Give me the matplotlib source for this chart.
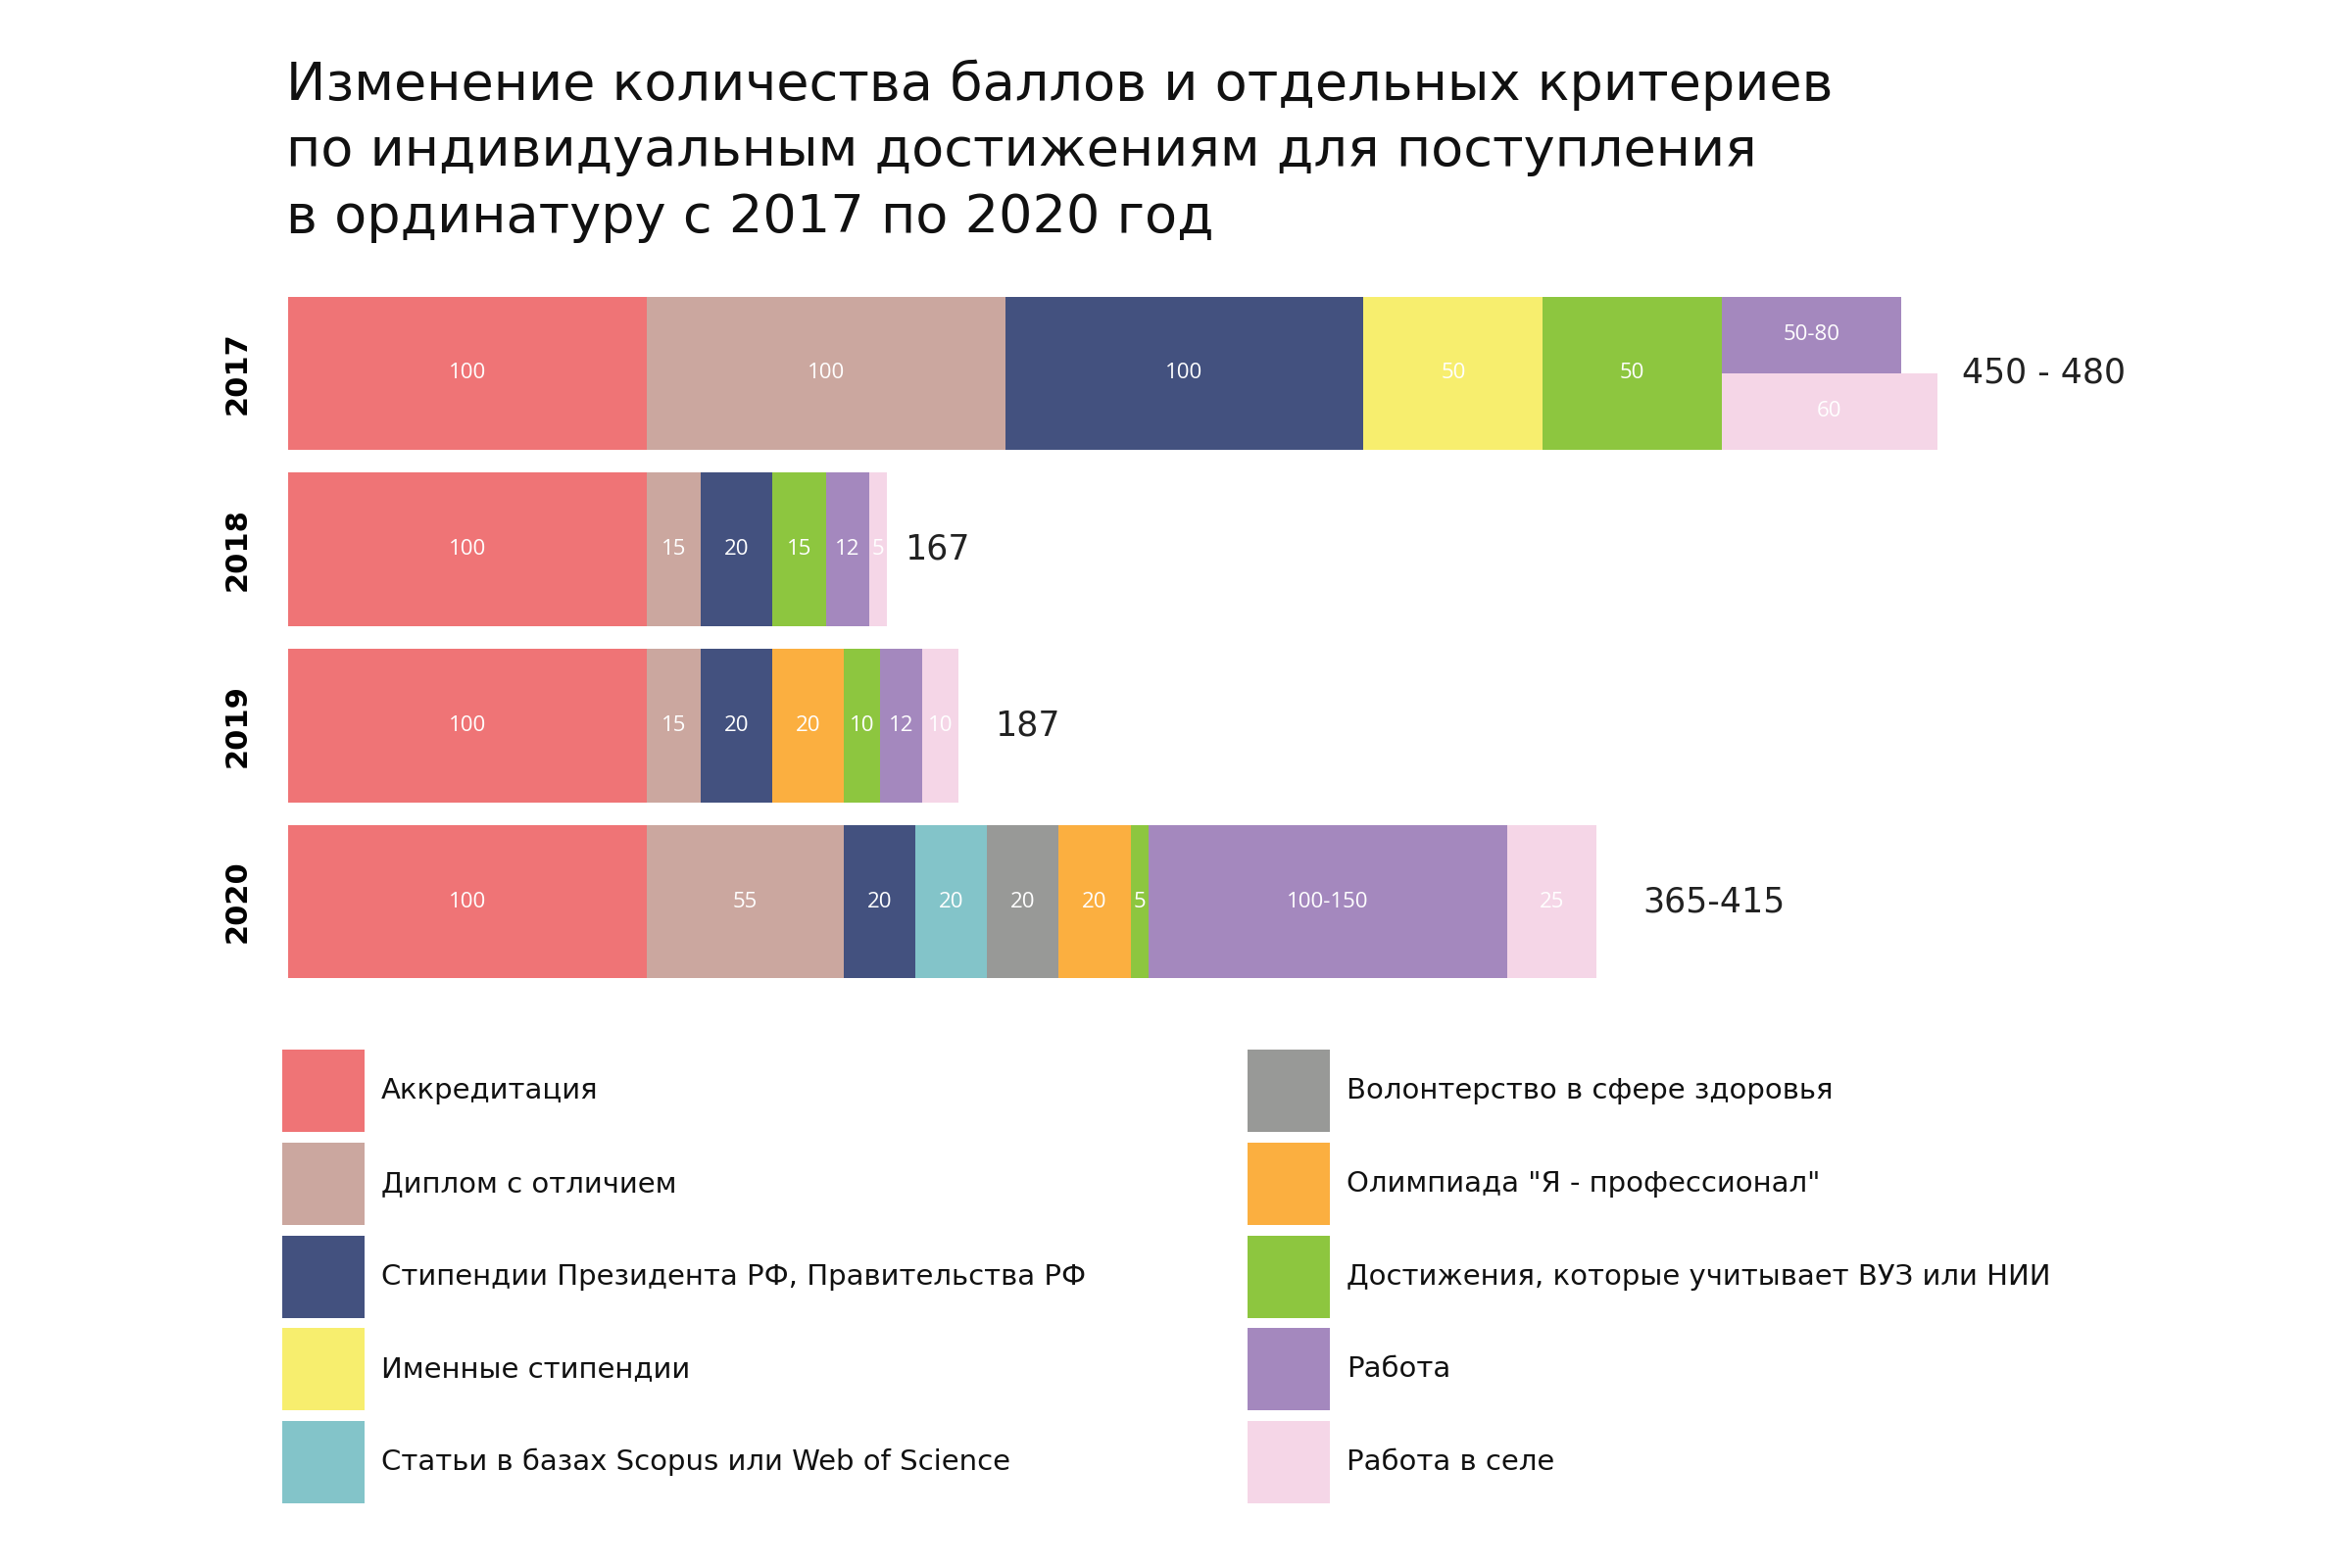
import matplotlib
matplotlib.use("Agg")
import matplotlib.pyplot as plt
from matplotlib.patches import Rectangle

plt.rcParams['font.family'] = ['DejaVu Sans']

# ---------------- data ----------------
years = ['2017', '2018', '2019', '2020']
categories = ['Аккредитация', 'Диплом с отличием',
              'Стипендии Президента РФ, Правительства РФ', 'Именные стипендии',
              'Статьи в базах Scopus или Web of Science',
              'Волонтерство в сфере здоровья', 'Олимпиада "Я - профессионал"',
              'Достижения, которые учитывает ВУЗ или НИИ', 'Работа', 'Работа в селе']
accreditation = [100, 100, 100, 100]
diploma = [100, 15, 15, 55]
president = [100, 20, 20, 20]
named = [50, 0, 0, 0]
articles = [0, 0, 0, 20]
volunteer = [0, 0, 0, 20]
olympiad = [0, 0, 20, 20]
achievements = [50, 15, 10, 5]
work = [50, 12, 12, 100]
work_village = [60, 5, 10, 25]
work_labels = ['50-80', '12', '12', '100-150']
total_labels = ['450 - 480', '167', '187', '365-415']
total_gap = [7, 5, 10, 13]

colors = ['#EF7476', '#CBA79F', '#43517F', '#F7EE6E', '#83C4C9',
          '#989997', '#FBAF40', '#8DC63F', '#A488BE', '#F5D6E7']

series = [accreditation, diploma, president, named, articles, volunteer,
          olympiad, achievements, work, work_village]

# ---------------- figure ----------------
fig = plt.figure(figsize=(24, 16), dpi=100)
W, H = 2400, 1600
ax_left, ax_right = 294, 2200
ax_top, ax_bot = 291, 1010
ax = fig.add_axes([ax_left / W, 1 - ax_bot / H, (ax_right - ax_left) / W, (ax_bot - ax_top) / H])
ax.set_xlim(0, (ax_right - ax_left) / 3.658)
ax.set_ylim(3.5, -0.5)
bh = 0.87
y = list(range(len(years)))
seg_font = ['Open Sans', 'DejaVu Sans']

for i, yr in enumerate(years):
    left = 0
    split = work[i] > 0 and i == 0
    for k, (vals, col) in enumerate(zip(series, colors)):
        v = vals[i]
        if v == 0:
            continue
        label = work_labels[i] if k == 8 else str(v)
        if split and k in (8, 9):
            # 2017: "Работа" and "Работа в селе" share the same start, split in halves
            yc = y[i] - bh / 4 if k == 8 else y[i] + bh / 4
            ax.barh(yc, v, left=left, height=bh / 2, color=col, linewidth=0)
            ax.text(left + v / 2, yc, label, color='white', ha='center', va='center',
                    fontsize=16, family=seg_font)
            if k == 9:
                left += v
            continue
        ax.barh(y[i], v, left=left, height=bh, color=col, linewidth=0)
        ax.text(left + v / 2, y[i], label, color='white', ha='center', va='center',
                fontsize=16, family=seg_font)
        left += v
    ax.text(left + total_gap[i], y[i], total_labels[i], ha='left', va='center',
            fontsize=25, color='#222222')

ax.set_yticks(y)
ax.set_yticklabels(years, rotation=90, va='center', fontsize=22, fontweight='bold')
ax.tick_params(axis='y', length=0, pad=27)
ax.set_xticks([])
for s in ax.spines.values():
    s.set_visible(False)

# ---------------- title ----------------
title_lines = ['Изменение количества баллов и отдельных критериев',
               'по индивидуальным достижениям для поступления',
               'в ординатуру с 2017 по 2020 год']
baselines = [102, 169.5, 237]
for line, b in zip(title_lines, baselines):
    fig.text(292 / W, 1 - b / H, line, ha='left', va='baseline',
             fontsize=39, color='#111111')

# ---------------- legend ----------------
lax = fig.add_axes([0, 0, 1, 1])
lax.set_xlim(0, W)
lax.set_ylim(H, 0)
lax.axis('off')
col_x = [288, 1273]
row_y = [1113, 1208, 1303, 1397, 1492]
sw = 84
for k, (name, col) in enumerate(zip(categories, colors)):
    cx = col_x[k // 5]
    cy = row_y[k % 5]
    lax.add_patch(Rectangle((cx, cy - sw / 2), sw, sw, color=col, linewidth=0))
    lax.text(cx + sw + 17, cy, name, ha='left', va='center', fontsize=21, color='#111111')

fig.savefig('out.png', dpi=100, facecolor='white')
